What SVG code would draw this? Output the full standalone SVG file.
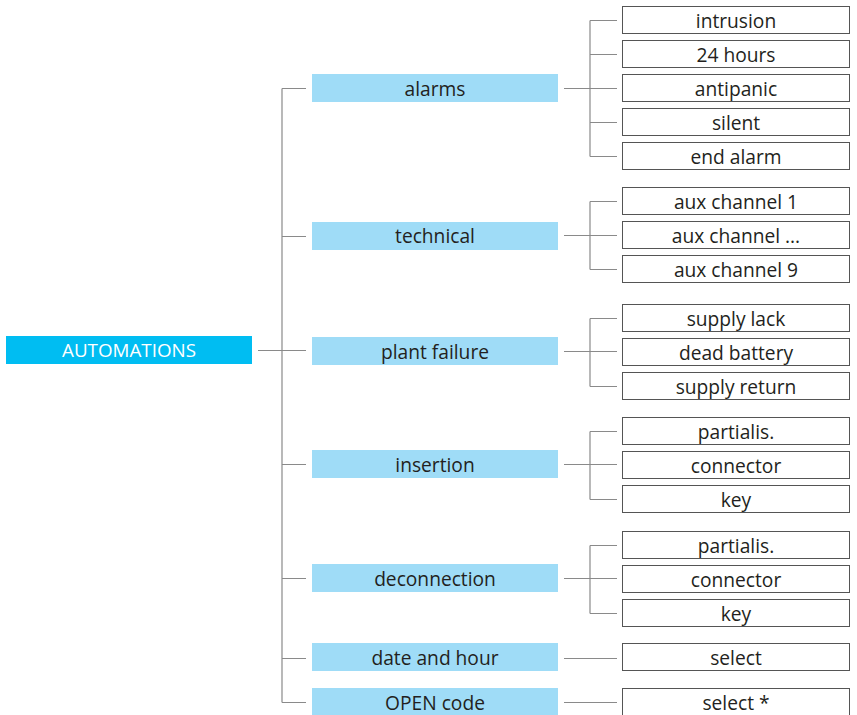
<svg xmlns="http://www.w3.org/2000/svg" width="857" height="715" viewBox="0 0 857 715">
<style>
.root{fill:#00bdf2}
.cat{fill:#9fdcf7}
.leaf{fill:#fff;stroke:#555;stroke-width:1}
text{font-family:"Open Sans","Noto Sans",sans-serif;font-size:19.2px;text-anchor:middle;dominant-baseline:central;fill:#231f20}
.rt{fill:#fff;font-size:18.8px}
.ln{stroke:#8a8a8a;stroke-width:1.2;fill:none}
</style>
<rect width="857" height="715" fill="#fff"/>
<g id="connectors">
<path class="ln" d="M258 350.5H306M282 88.5V702.5M282 88.5H306M282 236.5H306M282 464.5H306M282 578.5H306M282 658.5H306M282 702.5H306"/>
<path class="ln" d="M564 88.5H617M590 20.5V156.5M590 20.5H617M590 54.5H617M590 122.5H617M590 156.5H617"/>
<path class="ln" d="M564 235.5H617M590 201.5V269.5M590 201.5H617M590 269.5H617"/>
<path class="ln" d="M564 351.5H617M590 318.5V386.5M590 318.5H617M590 386.5H617"/>
<path class="ln" d="M564 464.5H617M590 431.5V499.5M590 431.5H617M590 499.5H617"/>
<path class="ln" d="M564 578.5H617M590 545.5V613.5M590 545.5H617M590 613.5H617"/>
<path class="ln" d="M564 658.5H617M564 702.5H617"/>
</g>
<g id="automations"><rect class="root" x="6" y="336" width="246" height="28"/><text class="rt" x="129" y="350">AUTOMATIONS</text></g>
<g id="alarms"><rect class="cat" x="312" y="74" width="246" height="28"/><text x="435" y="88">alarms</text></g>
<g id="technical"><rect class="cat" x="312" y="222" width="246" height="28"/><text x="435" y="235.5">technical</text></g>
<g id="plant-failure"><rect class="cat" x="312" y="337" width="246" height="28"/><text x="435" y="351">plant failure</text></g>
<g id="insertion"><rect class="cat" x="312" y="450" width="246" height="28"/><text x="435" y="464">insertion</text></g>
<g id="deconnection"><rect class="cat" x="312" y="564" width="246" height="28"/><text x="435" y="578">deconnection</text></g>
<g id="date-and-hour"><rect class="cat" x="312" y="643" width="246" height="28"/><text x="435" y="657">date and hour</text></g>
<g id="open-code"><rect class="cat" x="312" y="688" width="246" height="28"/><text x="435" y="702">OPEN code</text></g>
<g id="intrusion"><rect class="leaf" x="622.5" y="6.5" width="227" height="27"/><text x="736" y="20">intrusion</text></g>
<g id="h24"><rect class="leaf" x="622.5" y="40.5" width="227" height="27"/><text x="736" y="54">24 hours</text></g>
<g id="antipanic"><rect class="leaf" x="622.5" y="74.5" width="227" height="27"/><text x="736" y="88">antipanic</text></g>
<g id="silent"><rect class="leaf" x="622.5" y="108.5" width="227" height="27"/><text x="736" y="122">silent</text></g>
<g id="end-alarm"><rect class="leaf" x="622.5" y="142.5" width="227" height="27"/><text x="736" y="156">end alarm</text></g>
<g id="aux1"><rect class="leaf" x="622.5" y="187.5" width="227" height="27"/><text x="736" y="201">aux channel 1</text></g>
<g id="auxn"><rect class="leaf" x="622.5" y="221.5" width="227" height="27"/><text x="736" y="235">aux channel ...</text></g>
<g id="aux9"><rect class="leaf" x="622.5" y="255.5" width="227" height="27"/><text x="736" y="269">aux channel 9</text></g>
<g id="supply-lack"><rect class="leaf" x="622.5" y="304.5" width="227" height="27"/><text x="736" y="318">supply lack</text></g>
<g id="dead-battery"><rect class="leaf" x="622.5" y="338.5" width="227" height="27"/><text x="736" y="352">dead battery</text></g>
<g id="supply-return"><rect class="leaf" x="622.5" y="372.5" width="227" height="27"/><text x="736" y="386">supply return</text></g>
<g id="ins-partialis"><rect class="leaf" x="622.5" y="417.5" width="227" height="27"/><text x="736" y="431">partialis.</text></g>
<g id="ins-connector"><rect class="leaf" x="622.5" y="451.5" width="227" height="27"/><text x="736" y="465">connector</text></g>
<g id="ins-key"><rect class="leaf" x="622.5" y="485.5" width="227" height="27"/><text x="736" y="499">key</text></g>
<g id="dec-partialis"><rect class="leaf" x="622.5" y="531.5" width="227" height="27"/><text x="736" y="545">partialis.</text></g>
<g id="dec-connector"><rect class="leaf" x="622.5" y="565.5" width="227" height="27"/><text x="736" y="579">connector</text></g>
<g id="dec-key"><rect class="leaf" x="622.5" y="599.5" width="227" height="27"/><text x="736" y="613">key</text></g>
<g id="select"><rect class="leaf" x="622.5" y="643.5" width="227" height="27"/><text x="736" y="657">select</text></g>
<g id="select-star"><rect class="leaf" x="622.5" y="688.5" width="227" height="30"/><text x="736" y="702">select *</text></g>
</svg>
